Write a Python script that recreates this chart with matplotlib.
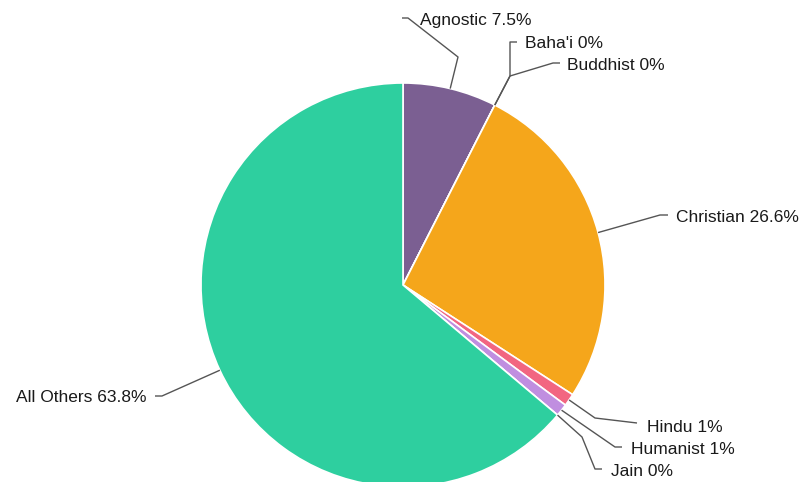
import numpy as np
import matplotlib
matplotlib.use("Agg")
import matplotlib.pyplot as plt

categories = ["Agnostic", "Baha'i", "Buddhist", "Christian", "Hindu", "Humanist", "Jain", "All Others"]
values = [7.5, 0, 0, 26.6, 1, 1, 0, 63.8]
label_pcts = ["7.5%", "0%", "0%", "26.6%", "1%", "1%", "0%", "63.8%"]
colors = ["#7b5f92", "#c23531", "#2f4554", "#f5a61b", "#f26681", "#c08ee0", "#91c7ae", "#2ecf9f"]

# layout (pixel coordinates): intermediate leader points, label anchor, alignment
layout = [
    ([(458, 57), (408, 18), (402, 18)], (420, 20), "left"),
    ([(510, 76), (510, 42), (517, 42)], (525, 44), "left"),
    ([(510, 76), (553, 63), (560, 63)], (567, 66), "left"),
    ([(660, 215), (668, 215)], (676, 218), "left"),
    ([(595, 418), (637, 423)], (647, 427), "left"),
    ([(615, 447), (622, 447)], (631, 450), "left"),
    ([(582, 437), (595, 469), (602, 469)], (611, 471), "left"),
    ([(162, 396), (155, 396)], (146, 398), "right"),
]

W, H = 801, 482
cx, cy, R = 403, 285, 202

plt.rcParams['font.family'] = ['Liberation Sans', 'DejaVu Sans']
fig = plt.figure(figsize=(W / 100, H / 100), dpi=100)
ax = fig.add_axes([0, 0, 1, 1])

wedges, _ = ax.pie(values, colors=colors, startangle=90, counterclock=False,
                   center=(cx, H - cy), radius=R, frame=True,
                   wedgeprops=dict(edgecolor="white", linewidth=1.2))
ax.set_xlim(0, W)
ax.set_ylim(0, H)
ax.set_aspect('equal')
ax.axis('off')

total = sum(values)
cum = 0.0
for name, v, pct, (pts, lab, ha) in zip(categories, values, label_pcts, layout):
    mid = (cum + v / 2) / total * 2 * np.pi
    cum += v
    ax_x = cx + R * np.sin(mid)
    ax_y = cy - R * np.cos(mid)
    xs = [ax_x] + [p[0] for p in pts]
    ys = [H - ax_y] + [H - p[1] for p in pts]
    ax.plot(xs, ys, color="#555555", lw=1.0, solid_capstyle='butt')
    ax.text(lab[0], H - lab[1], f"{name} {pct}", ha=ha, va="center",
            fontsize=12.5, color="#1a1a1a")

fig.savefig("out.png", dpi=100)
